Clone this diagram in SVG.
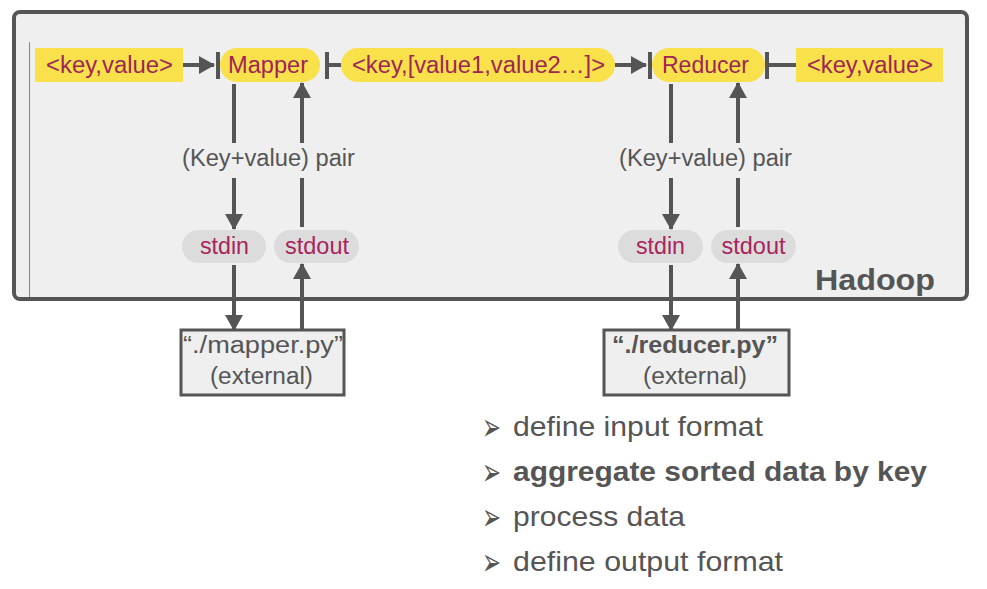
<svg xmlns="http://www.w3.org/2000/svg" width="987" height="589" viewBox="0 0 987 589">
<defs>
<style>
text{font-family:"Liberation Sans",Arial,sans-serif}
.mg{fill:#9e2656;font-size:23px;text-anchor:middle}
.gr{fill:#555;font-size:23px;text-anchor:middle}
.ln{stroke:#555;stroke-width:4;fill:none}
.bar{stroke:#555;stroke-width:4}
.yel{fill:#f8e14a}
.pill{fill:#dcdcdc}
.ext{fill:#efefef;stroke:#555;stroke-width:3}
.bl{fill:#555;font-size:28px}
.bu{font-family:"DejaVu Sans",sans-serif;font-size:38px;fill:#555}
</style>
<marker id="ah" markerUnits="userSpaceOnUse" markerWidth="18" markerHeight="18" viewBox="0 0 16 18" refX="15" refY="9" orient="auto">
<path d="M0,0 L16,9 L0,18 Z" fill="#555"/>
</marker>
</defs>
<rect width="987" height="589" fill="#fff"/>
<g id="hadoop">
<rect x="14" y="12" width="953" height="287" rx="6" fill="#efefef" stroke="#555" stroke-width="4"/>
<line x1="29.5" y1="42" x2="29.5" y2="297" stroke="#888" stroke-width="1"/>
<text x="875" y="290" text-anchor="middle" textLength="120" lengthAdjust="spacingAndGlyphs" style="font-size:30px;font-weight:bold;fill:#555">Hadoop</text>
</g>
<g id="in-kv">
<rect class="yel" x="35" y="48" width="148" height="34"/>
<text class="mg" x="109.5" y="72.5" textLength="127" lengthAdjust="spacingAndGlyphs">&lt;key,value&gt;</text>
</g>
<g id="mapper">
<rect class="yel" x="220" y="48" width="100" height="34" rx="17"/>
<text class="mg" x="268" y="72.5" textLength="80" lengthAdjust="spacingAndGlyphs">Mapper</text>
</g>
<g id="mid-kv">
<rect class="yel" x="341" y="48" width="274" height="34" rx="17"/>
<text class="mg" x="478.5" y="72.5" textLength="253" lengthAdjust="spacingAndGlyphs">&lt;key,[value1,value2…]&gt;</text>
</g>
<g id="reducer">
<rect class="yel" x="652" y="48" width="113" height="34" rx="17"/>
<text class="mg" x="705.5" y="72.5" textLength="87" lengthAdjust="spacingAndGlyphs">Reducer</text>
</g>
<g id="out-kv">
<rect class="yel" x="796" y="48" width="147" height="34"/>
<text class="mg" x="870" y="72.5" textLength="126" lengthAdjust="spacingAndGlyphs">&lt;key,value&gt;</text>
</g>
<g id="m-label"><text class="gr" x="268.5" y="166" textLength="173" lengthAdjust="spacingAndGlyphs">(Key+value) pair</text></g>
<g id="r-label"><text class="gr" x="705.5" y="166" textLength="173" lengthAdjust="spacingAndGlyphs">(Key+value) pair</text></g>
<g id="m-stdin">
<rect class="pill" x="182" y="230" width="84" height="33" rx="16.5"/>
<text class="mg" x="224.5" y="254" textLength="49" lengthAdjust="spacingAndGlyphs" style="fill:#a8245c">stdin</text>
</g>
<g id="m-stdout">
<rect class="pill" x="274" y="230" width="85" height="33" rx="16.5"/>
<text class="mg" x="317" y="254" textLength="64" lengthAdjust="spacingAndGlyphs" style="fill:#a8245c">stdout</text>
</g>
<g id="r-stdin">
<rect class="pill" x="618" y="230" width="85" height="33" rx="16.5"/>
<text class="mg" x="660.5" y="254" textLength="49" lengthAdjust="spacingAndGlyphs" style="fill:#a8245c">stdin</text>
</g>
<g id="r-stdout">
<rect class="pill" x="711" y="230" width="85" height="33" rx="16.5"/>
<text class="mg" x="753.5" y="254" textLength="64" lengthAdjust="spacingAndGlyphs" style="fill:#a8245c">stdout</text>
</g>
<g id="mapper-py">
<rect class="ext" x="181" y="330" width="163" height="65"/>
<text class="gr" x="263" y="353" textLength="160" lengthAdjust="spacingAndGlyphs">“./mapper.py”</text>
<text class="gr" x="261.5" y="384" textLength="103" lengthAdjust="spacingAndGlyphs">(external)</text>
</g>
<g id="reducer-py">
<rect class="ext" x="604" y="330" width="185" height="65"/>
<text class="gr" x="695" y="353" textLength="166" lengthAdjust="spacingAndGlyphs" style="font-weight:bold">“./reducer.py”</text>
<text class="gr" x="695" y="384" textLength="104" lengthAdjust="spacingAndGlyphs">(external)</text>
</g>
<g id="connectors">
<line class="ln" x1="183" y1="65" x2="214" y2="65" marker-end="url(#ah)"/>
<line class="bar" x1="218" y1="52" x2="218" y2="79"/>
<line class="bar" x1="327" y1="52" x2="327" y2="79"/>
<line class="ln" x1="327" y1="65" x2="341" y2="65"/>
<line class="ln" x1="615" y1="65" x2="646" y2="65" marker-end="url(#ah)"/>
<line class="bar" x1="650" y1="52" x2="650" y2="79"/>
<line class="bar" x1="767" y1="52" x2="767" y2="79"/>
<line class="ln" x1="767" y1="65" x2="796" y2="65"/>
<line class="ln" x1="234" y1="84" x2="234" y2="143"/>
<line class="ln" x1="234" y1="178" x2="234" y2="229" marker-end="url(#ah)"/>
<line class="ln" x1="302" y1="227" x2="302" y2="178"/>
<line class="ln" x1="302" y1="143" x2="302" y2="83" marker-end="url(#ah)"/>
<line class="ln" x1="234" y1="265" x2="234" y2="330" marker-end="url(#ah)"/>
<line class="ln" x1="302" y1="330" x2="302" y2="264" marker-end="url(#ah)"/>
<line class="ln" x1="671" y1="84" x2="671" y2="143"/>
<line class="ln" x1="671" y1="178" x2="671" y2="229" marker-end="url(#ah)"/>
<line class="ln" x1="738" y1="227" x2="738" y2="178"/>
<line class="ln" x1="738" y1="143" x2="738" y2="83" marker-end="url(#ah)"/>
<line class="ln" x1="671" y1="265" x2="671" y2="330" marker-end="url(#ah)"/>
<line class="ln" x1="738" y1="330" x2="738" y2="264" marker-end="url(#ah)"/>
</g>
<g id="bullets">
<text class="bu" x="482" y="440" textLength="19" lengthAdjust="spacingAndGlyphs">➢</text>
<text class="bl" x="513" y="436" textLength="250" lengthAdjust="spacingAndGlyphs">define input format</text>
<text class="bu" x="482" y="485" textLength="19" lengthAdjust="spacingAndGlyphs">➢</text>
<text class="bl" x="513" y="481" textLength="414" lengthAdjust="spacingAndGlyphs" style="font-weight:bold">aggregate sorted data by key</text>
<text class="bu" x="482" y="530" textLength="19" lengthAdjust="spacingAndGlyphs">➢</text>
<text class="bl" x="513" y="526" textLength="172" lengthAdjust="spacingAndGlyphs">process data</text>
<text class="bu" x="482" y="575" textLength="19" lengthAdjust="spacingAndGlyphs">➢</text>
<text class="bl" x="513" y="571" textLength="270" lengthAdjust="spacingAndGlyphs">define output format</text>
</g>
</svg>
